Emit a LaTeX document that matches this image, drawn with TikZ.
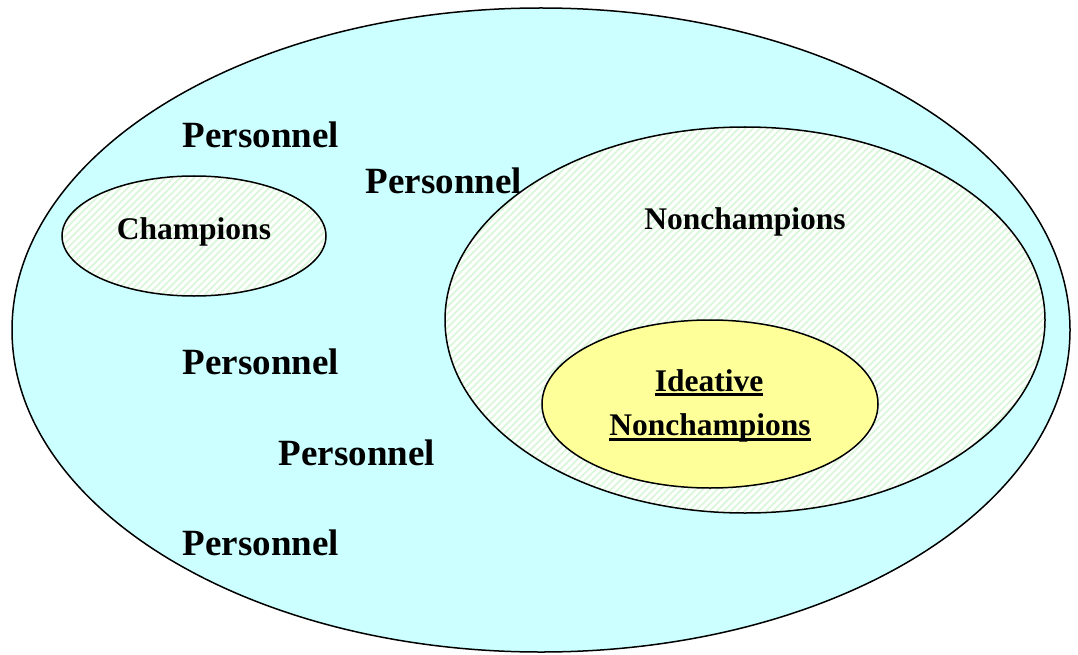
\documentclass[tikz,border=0pt]{standalone}
\usepackage{fontspec}
\setmainfont{Liberation Serif}
\usetikzlibrary{patterns.meta}
\definecolor{skyfill}{HTML}{CCFFFF}
\definecolor{paleyellow}{HTML}{FFFF99}
\definecolor{stripegreen}{HTML}{DAF7DA}
\newcommand\thickul[1]{\setbox0\hbox{#1}\rlap{\rule[-5pt]{\wd0}{3pt}}\box0}
\begin{document}
\begin{tikzpicture}[x=1pt,y=-1pt,
  outline/.style={draw=black,line width=1.5pt},
  stripefill/.style={fill=white,postaction={pattern={Lines[angle=45,distance=5pt,line width=1.8pt]},pattern color=stripegreen}},
  bigword/.style={font=\bfseries\fontsize{37}{40}\selectfont,inner sep=0pt},
  setword/.style={font=\bfseries\fontsize{31.5}{36}\selectfont,inner sep=0pt}]
  \useasboundingbox (0,0) rectangle (1078,655);
  % whole population
  \draw[outline,fill=skyfill] (541,330) ellipse [x radius=529,y radius=322];
  % sub-groups: striped fill first, then the outline on top
  \path[stripefill] (194,236) ellipse [x radius=132,y radius=60];
  \draw[outline] (194,236) ellipse [x radius=132,y radius=60];
  \path[stripefill] (745,320) ellipse [x radius=300,y radius=193];
  \draw[outline] (745,320) ellipse [x radius=300,y radius=193];
  \draw[outline,fill=paleyellow] (710,404) ellipse [x radius=168,y radius=84];
  % labels
  \node[bigword] (p1) at (261,135) {Personnel};
  \node[bigword] (p2) at (444,181) {Personnel};
  \node[bigword] (p3) at (261,362) {Personnel};
  \node[bigword] (p4) at (357,453) {Personnel};
  \node[bigword] (p5) at (261,543) {Personnel};
  \node[setword] (champ) at (194,232) {Champions};
  \node[setword] (nonchamp) at (745,222) {Nonchampions};
  \node[setword] (idea1) at (709,383) {\thickul{Ideative}};
  \node[setword] (idea2) at (710,428) {\thickul{Nonchampions}};
\end{tikzpicture}
\end{document}
